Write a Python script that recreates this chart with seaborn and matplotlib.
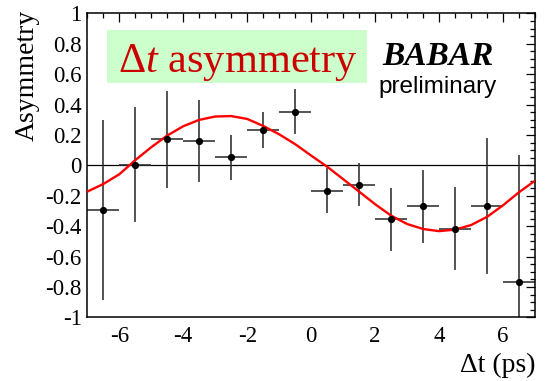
import matplotlib
matplotlib.use("Agg")
import matplotlib.pyplot as plt
import pandas as pd
import seaborn as sns
from matplotlib import font_manager
from matplotlib.font_manager import FontProperties
from matplotlib.ticker import MultipleLocator, FuncFormatter
from matplotlib.patches import Rectangle

# Binned Δt asymmetry (bin centres in ps, value, symmetric error)
dt_bins = [-6.5, -5.5, -4.5, -3.5, -2.5, -1.5, -0.5, 0.5, 1.5, 2.5, 3.5, 4.5, 5.5, 6.5]
dt_halfwidth = [0.5, 0.5, 0.5, 0.5, 0.5, 0.5, 0.5, 0.5, 0.5, 0.5, 0.5, 0.5, 0.5, 0.5]
asym = [-0.294, 0.005, 0.171, 0.160, 0.055, 0.234, 0.355, -0.165, -0.126,
        -0.355, -0.268, -0.416, -0.268, -0.766]
asym_err = [0.59, 0.38, 0.32, 0.27, 0.148, 0.118, 0.146, 0.148, 0.14,
            0.21, 0.239, 0.274, 0.447, 0.834]

# Fitted asymmetry curve
fit_dt = [-7.0, -6.5, -6.0, -5.5, -5.0, -4.5, -4.0, -3.5, -3.0, -2.5, -2.0,
          -1.5, -1.0, -0.5, 0.0, 0.5, 1.0, 1.5, 2.0, 2.5, 3.0, 3.5, 4.0,
          4.5, 5.0, 5.5, 6.0, 6.5, 7.0]
fit_asym = [-0.172, -0.122, -0.058, 0.035, 0.12, 0.197, 0.258, 0.300, 0.322,
            0.325, 0.306, 0.260, 0.205, 0.140, 0.065, -0.008, -0.090, -0.172,
            -0.255, -0.330, -0.385, -0.418, -0.432, -0.422, -0.392, -0.338,
            -0.262, -0.176, -0.100]

x_ticks = [-6, -4, -2, 0, 2, 4, 6]
y_ticks = [-1, -0.8, -0.6, -0.4, -0.2, 0, 0.2, 0.4, 0.6, 0.8, 1]

sns.set_theme(style="white")
plt.rcParams["font.family"] = ["Liberation Serif", "DejaVu Serif"]
plt.rcParams["axes.unicode_minus"] = False
plt.rcParams["mathtext.fontset"] = "custom"
plt.rcParams["mathtext.rm"] = "Liberation Serif"
plt.rcParams["mathtext.it"] = "Liberation Serif:italic"


def serif_font(size, weight="normal", style="normal"):
    """Times-like font resolved to an actual file."""
    probe = FontProperties(family="Liberation Serif", weight=weight, style=style)
    try:
        path = font_manager.findfont(probe, fallback_to_default=False)
        return FontProperties(fname=path, size=size)
    except Exception:
        return FontProperties(family="serif", weight=weight, style=style, size=size)


tick_font = serif_font(16.5)
label_font = serif_font(20)
logo_font = serif_font(24, weight="bold", style="italic")

points = pd.DataFrame({"dt": dt_bins, "asym": asym})
curve = pd.DataFrame({"dt": fit_dt, "asym": fit_asym})

fig = plt.figure(figsize=(5.46, 3.81), dpi=100)
ax = fig.add_axes([0.1599, 0.1667, 0.820, 0.798])

ax.axhline(0, color="black", lw=0.9, zorder=1)
ax.errorbar(dt_bins, asym, xerr=dt_halfwidth, yerr=asym_err, fmt="none",
            ecolor="#2e2e2e", elinewidth=1.15, capsize=0, zorder=2)
sns.lineplot(data=curve, x="dt", y="asym", color="#ff0000", lw=1.7,
             ax=ax, zorder=3, sort=False)
sns.scatterplot(data=points, x="dt", y="asym", color="black", s=27,
                edgecolor="black", linewidth=0, ax=ax, zorder=4)

ax.set_xlim(-7, 7)
ax.set_ylim(-1, 1)
ax.set_xlabel("")
ax.set_ylabel("")
ax.set_xticks(x_ticks)
ax.set_yticks(y_ticks)
ax.xaxis.set_minor_locator(MultipleLocator(0.5))
ax.yaxis.set_minor_locator(MultipleLocator(0.05))
fmt = FuncFormatter(lambda v, p: "0" if abs(v) < 1e-9 else f"{v:g}")
ax.xaxis.set_major_formatter(fmt)
ax.yaxis.set_major_formatter(fmt)
ax.tick_params(which="both", direction="in", top=True, right=True,
               color="black", width=0.9, labelcolor="black")
ax.tick_params(which="major", length=6.5)
ax.tick_params(which="minor", length=3.5)
ax.tick_params(axis="x", which="major", pad=6)
ax.tick_params(axis="y", which="major", pad=4)
for lbl in ax.get_xticklabels() + ax.get_yticklabels():
    lbl.set_fontproperties(tick_font)
for s in ax.spines.values():
    s.set_color("black")
    s.set_linewidth(1.1)

# Title box
fig.patches.append(Rectangle((107 / 546, 1 - 83 / 381), 260 / 546, 53 / 381,
                             transform=fig.transFigure, facecolor="#ccffcc",
                             edgecolor="none", zorder=5))
fig.text(118 / 546, 1 - 71.7 / 381, r"$\mathrm{\Delta}\mathit{t}$ asymmetry",
         fontproperties=serif_font(30.5), color="#cc0000", ha="left",
         va="baseline", zorder=6)

fig.text(438 / 546, 1 - 65 / 381, "BABAR", fontproperties=logo_font,
         color="black", ha="center", va="baseline")
fig.text(437.5 / 546, 1 - 93 / 381, "preliminary", fontsize=17.5,
         family=["Liberation Sans", "DejaVu Sans"], color="black",
         ha="center", va="baseline")

fig.text(27 / 546, 1 - 10 / 381, "Asymmetry", fontproperties=label_font,
         rotation=90, ha="center", va="top", color="black")
fig.text(535 / 546, 1 - 371.7 / 381, "Δt (ps)", fontproperties=label_font,
         ha="right", va="baseline", color="black")

fig.savefig("out.png", dpi=100, facecolor="white")
